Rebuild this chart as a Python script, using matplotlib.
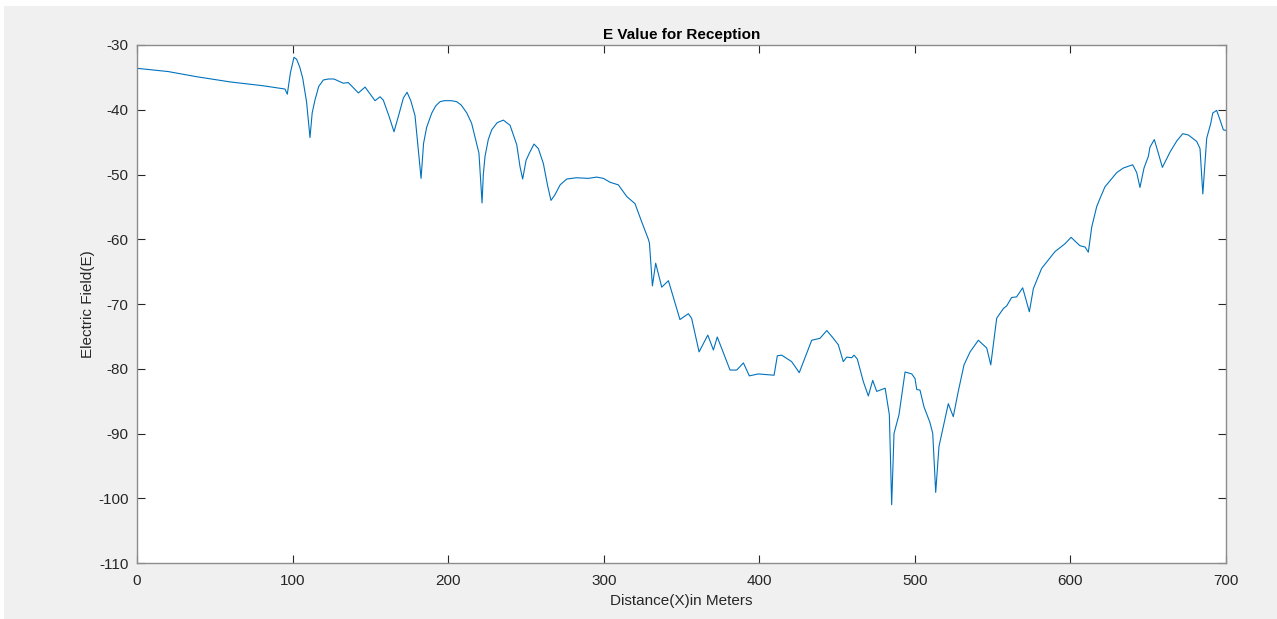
import matplotlib
matplotlib.use("Agg")
import matplotlib.pyplot as plt
from matplotlib.patches import Rectangle

plt.rcParams['font.family'] = ['Liberation Sans', 'DejaVu Sans']
plt.rcParams['axes.unicode_minus'] = False

distance_m = [0, 20.0, 38.4, 59.8, 81.2, 95.1, 96.6, 98.6, 100.9, 102.6, 104.6, 106.5, 109.0, 111.2,
              112.6, 114.4, 116.8, 119.8, 123.0,
              126.6, 132.6, 135.8, 142.3, 146.6, 153.0, 156.2, 158.3, 162.0, 165.2, 168.6, 171.2,
              173.6, 176.0, 178.7, 182.6,
              184.2, 186.2, 189.5, 192.0, 194.8, 197.5, 202.0, 205.5, 208.5, 212.0, 215.1, 219.8,
              221.8, 222.6, 223.7, 225.8, 228.0, 231.5, 235.5, 239.8,
              244.1, 246.2, 247.9, 250.1, 252.6, 255.2, 258.0, 261.2, 264.0, 266.1, 268.5, 272.0,
              276.2, 282.6,
              290.1, 295.5, 299.8, 304.1, 309.4, 314.8, 320.1, 324.4, 328.7, 329.4, 331.3, 333.4,
              337.3, 341.6, 349.0, 354.4, 356.5, 361.3, 366.9, 370.5, 373.0, 381.2, 385.5, 389.8,
              393.6, 399.4, 409.5, 411.6, 414.4, 420.8, 425.7, 433.7, 439.0, 443.4, 447.6, 450.8,
              454.0, 456.2, 459.4, 460.9, 463.0, 466.9, 470.1, 472.9, 475.5, 480.9, 483.6, 485.1,
              486.6, 489.8, 493.7, 498.0, 500.1, 501.2, 503.3, 505.9, 509.7, 511.5, 513.4, 515.5,
              518.3, 521.5, 524.7, 527.9, 531.6, 535.5, 540.8, 546.2, 548.8, 552.6, 556.9, 559.0,
              562.2, 565.4, 569.3, 573.6, 576.2, 581.5, 590.1, 596.5, 600.4, 606.1, 609.4, 611.5,
              613.7, 616.9, 619.0, 622.2, 629.8, 634.0, 640.0, 642.6, 644.7, 647.3, 650.1, 651.1,
              653.9, 656.5, 659.1, 664.1, 668.4, 672.2, 675.8, 681.2, 683.3, 685.1, 687.6, 690.2,
              691.5, 694.0, 696.2, 698.3, 700.0]

e_field = [-33.6, -34.1, -34.9, -35.7, -36.3, -36.8, -37.6, -34.3, -31.9, -32.2, -33.4, -35.1, -38.8,
           -44.3, -40.5, -38.5, -36.4, -35.4, -35.25,
           -35.25, -35.9, -35.8, -37.4, -36.5, -38.6, -38.0, -38.5, -41.0, -43.4, -40.5, -38.2,
           -37.3, -38.6, -40.9, -50.6,
           -45.2, -42.7, -40.5, -39.4, -38.75, -38.6, -38.6, -38.75, -39.3, -40.5, -42.1, -46.7,
           -54.4, -50.0, -47.2, -44.6, -43.1, -42.0, -41.6, -42.4,
           -45.4, -48.8, -50.7, -47.8, -46.5, -45.3, -46.0, -48.3, -51.8, -54.0, -53.2, -51.6,
           -50.7, -50.5,
           -50.6, -50.4, -50.6, -51.2, -51.6, -53.4, -54.5, -57.3, -60.0, -60.6, -67.2, -63.7,
           -67.4, -66.4, -72.4, -71.5, -72.2, -77.4, -74.8, -77.1, -75.1, -80.2, -80.2, -79.1,
           -81.1, -80.8, -81.0, -78.0, -77.9, -78.9, -80.6, -75.6, -75.3, -74.1, -75.3, -76.3,
           -78.9, -78.2, -78.3, -77.9, -78.5, -82.0, -84.2, -81.8, -83.5, -83.0, -87.1, -101.0,
           -90.0, -87.1, -80.5, -80.8, -81.5, -83.2, -83.3, -85.9, -88.3, -90.0, -99.1, -92.0,
           -88.95, -85.4, -87.4, -83.5, -79.4, -77.4, -75.6, -76.8, -79.4, -72.2, -70.7, -70.3,
           -69.0, -68.9, -67.5, -71.2, -67.6, -64.5, -61.9, -60.7, -59.7, -61.0, -61.2, -62.0,
           -58.1, -54.95, -53.7, -51.9, -49.7, -49.0, -48.5, -49.7, -52.0, -49.0, -47.2, -45.8,
           -44.6, -46.7, -48.9, -46.5, -44.8, -43.7, -43.9, -44.9, -46.0, -53.0, -44.4, -42.1,
           -40.5, -40.1, -41.6, -43.1, -43.2]

x_ticks = [0, 100, 200, 300, 400, 500, 600, 700]
y_ticks = [-110, -100, -90, -80, -70, -60, -50, -40, -30]

W, H = 1277, 619
fig = plt.figure(figsize=(W / 100, H / 100), dpi=100, facecolor='#f0f0f0')
# thin white screenshot border at top and left
fig.patches.append(Rectangle((0, 1 - 6 / H), 1, 6 / H, transform=fig.transFigure,
                             facecolor='white', edgecolor='none', zorder=-10))
fig.patches.append(Rectangle((0, 0), 4 / W, 1, transform=fig.transFigure,
                             facecolor='white', edgecolor='none', zorder=-10))

ax = fig.add_axes([137 / W, (H - 563) / H, 1089 / W, 518 / H])
ax.set_facecolor('white')
ax.plot(distance_m, e_field, color='#0072BD', linewidth=0.8)

ax.set_xlim(0, 700)
ax.set_ylim(-110, -30)
ax.set_xticks(x_ticks)
ax.set_yticks(y_ticks)
ax.tick_params(direction='in', top=True, right=True, length=6, width=0.8,
               colors='#262626', labelsize=11)
ax.tick_params(axis='x', pad=8)
ax.tick_params(axis='y', pad=6)
for s in ax.spines.values():
    s.set_color('#8c8c8c')
    s.set_linewidth(1.0)

ax.set_title('E Value for Reception', fontsize=11, fontweight='bold', color='black', pad=4)
ax.set_xlabel('Distance(X)in Meters', fontsize=11, color='#262626', labelpad=4)
ax.set_ylabel('Electric Field(E)', fontsize=11, color='#262626', labelpad=2)

fig.savefig('out.png', dpi=100, facecolor=fig.get_facecolor())
